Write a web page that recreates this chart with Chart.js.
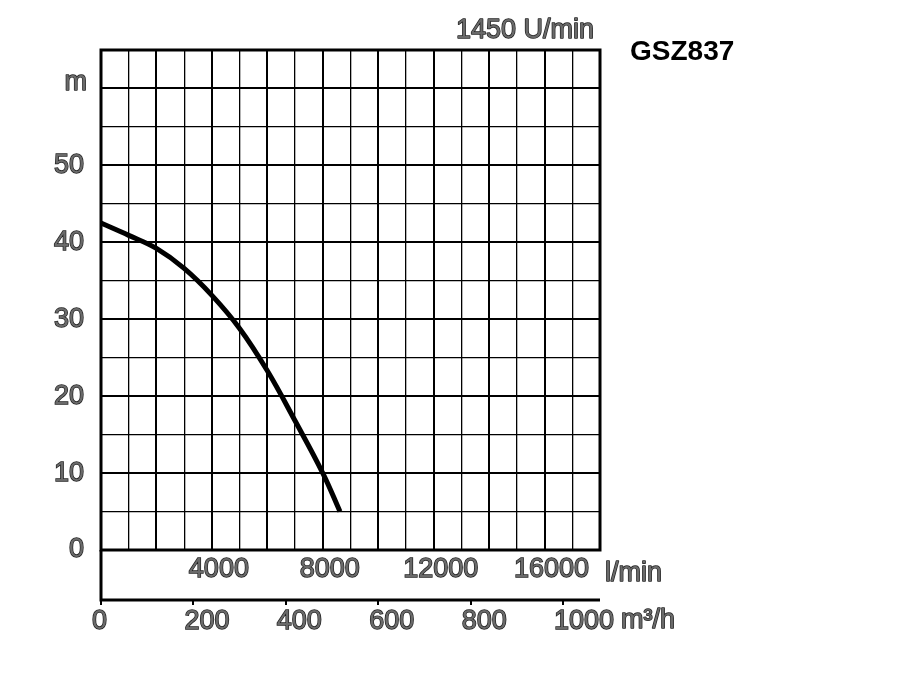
<!DOCTYPE html>
<html>
<head>
<meta charset="utf-8">
<script src="https://cdn.jsdelivr.net/npm/chart.js@4.4.1/dist/chart.umd.min.js"></script>
<style>
  html, body { margin: 0; padding: 0; background: #fff; }
  #wrap { width: 900px; height: 700px; }
</style>
</head>
<body>
<div id="wrap"><canvas id="pump"></canvas></div>
<script>
// pump curve GSZ837, flow in l/min, head in m
var flowLmin = [0, 1000, 2000, 3000, 4000, 5000, 6000, 7000, 8000, 8620];
var headM = [42.5, 40.9, 39.2, 36.6, 33.1, 28.8, 23.3, 16.8, 10.0, 5.0];

// tick labels
var flowLabels = [4000, 8000, 12000, 16000];
var cubicLabels = [0, 200, 400, 600, 800, 1000];
var headLabels = [0, 10, 20, 30, 40, 50];

var speedText = '1450 U/min';
var modelText = 'GSZ837';
var FONT = '"Liberation Sans", Arial, sans-serif';
var FILL = '#6a6a6a';
var OUTLINE = '#1e1e1e';

function outlined(ctx, text, x, y) {
	ctx.strokeText(text, x, y);
	ctx.fillText(text, x, y);
}

// frame round the grid, the l/min band below it and the loose texts
var framePlugin = {
	id: 'frame',
	afterDraw: function (chart) {
		var ctx = chart.ctx;
		var a = chart.chartArea;
		var band = chart.scales.x;
		var lower = chart.scales.x2;
		var y = chart.scales.y;

		ctx.save();
		ctx.strokeStyle = '#000';
		ctx.lineWidth = 3;
		ctx.strokeRect(a.left, a.top, a.right - a.left, a.bottom - a.top);
		ctx.beginPath();
		ctx.moveTo(a.left, a.bottom);
		ctx.lineTo(a.left, band.bottom);
		ctx.lineTo(a.right, band.bottom);
		ctx.stroke();

		ctx.font = '27px ' + FONT;
		ctx.fillStyle = FILL;
		ctx.strokeStyle = OUTLINE;
		ctx.lineWidth = 1.4;
		ctx.lineJoin = 'round';
		ctx.textBaseline = 'middle';
		ctx.textAlign = 'left';
		outlined(ctx, 'l/min', a.right + 5, (band.top + band.bottom) / 2 - 1);
		outlined(ctx, 'm³/h', a.right + 21, lower.top + 21);
		ctx.textAlign = 'right';
		outlined(ctx, 'm', a.left - 14, y.getPixelForValue(60) - 6);
		outlined(ctx, speedText, a.right - 6, a.top - 19);

		ctx.font = 'bold 28px ' + FONT;
		ctx.fillStyle = '#000';
		ctx.textAlign = 'left';
		ctx.fillText(modelText, a.right + 30, a.top + 2);
		ctx.restore();
	}
};

var tickFont = { family: FONT, size: 27 };

var chart = new Chart(document.getElementById('pump'), {
	type: 'line',
	data: {
		datasets: [{
			data: flowLmin.map(function (f, i) { return { x: f, y: headM[i] }; }),
			borderColor: '#000',
			borderWidth: 5,
			pointRadius: 0,
			fill: false,
			tension: 0.4,
			xAxisID: 'x',
			yAxisID: 'y'
		}]
	},
	options: {
		responsive: true,
		maintainAspectRatio: false,
		animation: false,
		layout: { padding: { top: 50, right: 300, bottom: 40, left: 0 } },
		plugins: { legend: { display: false }, title: { display: false }, tooltip: { enabled: false } },
		scales: {
			x: {
				type: 'linear',
				position: 'bottom',
				min: 0,
				max: 18000,
				afterFit: function (s) { s.height = 50; },
				border: { display: false },
				grid: {
					color: '#000',
					drawTicks: false,
					lineWidth: function (c) { return c.tick.value % 2000 === 0 ? 2 : 1.3; }
				},
				ticks: {
					stepSize: 1000,
					autoSkip: false,
					maxRotation: 0,
					minRotation: 0,
					padding: 3,
					labelOffset: 7,
					font: tickFont,
					color: FILL,
					textStrokeColor: OUTLINE,
					textStrokeWidth: 1.4,
					callback: function (v) { return flowLabels.indexOf(v) >= 0 ? String(v) : ''; }
				}
			},
			x2: {
				type: 'linear',
				position: 'bottom',
				min: 0,
				max: 1080,
				afterFit: function (s) { s.height = 60; },
				afterBuildTicks: function (s) { s.ticks = cubicLabels.map(function (v) { return { value: v }; }); },
				border: { display: false },
				grid: { drawOnChartArea: false, drawTicks: true, tickLength: 5, color: '#000', lineWidth: 2 },
				ticks: {
					autoSkip: false,
					maxRotation: 0,
					minRotation: 0,
					padding: 0,
					align: 'start',
					labelOffset: -9,
					font: tickFont,
					color: FILL,
					textStrokeColor: OUTLINE,
					textStrokeWidth: 1.4,
					callback: function (v) { return String(v); }
				}
			},
			y: {
				type: 'linear',
				min: 0,
				max: 65,
				afterFit: function (s) { s.width = 101; },
				border: { display: false },
				grid: {
					color: '#000',
					drawTicks: false,
					lineWidth: function (c) { return c.tick.value % 10 === 0 ? 2 : 1.3; }
				},
				ticks: {
					stepSize: 5,
					autoSkip: false,
					padding: 17,
					font: tickFont,
					color: FILL,
					textStrokeColor: OUTLINE,
					textStrokeWidth: 1.4,
					callback: function (v) { return headLabels.indexOf(v) >= 0 ? String(v) : ''; }
				}
			}
		}
	},
	plugins: [framePlugin]
});
</script>
</body>
</html>
